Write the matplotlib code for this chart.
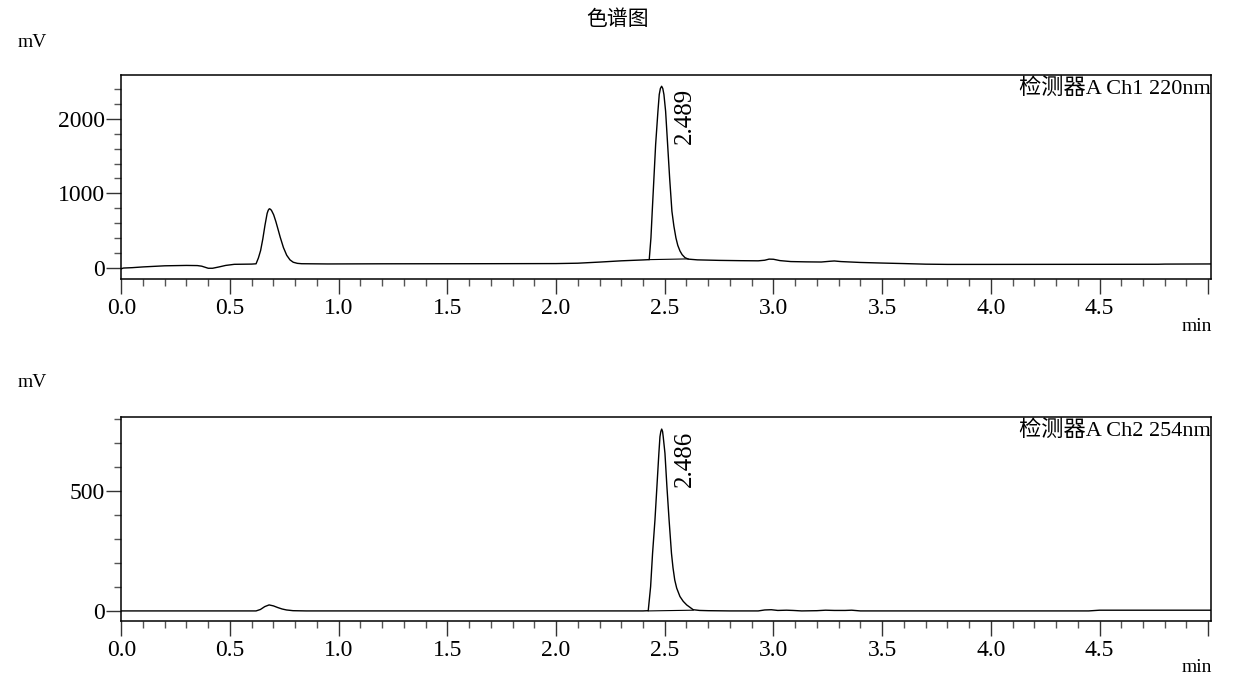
import numpy as np
import matplotlib
matplotlib.use("Agg")
import matplotlib.pyplot as plt
from matplotlib.ticker import MultipleLocator, FixedLocator, FixedFormatter

plt.rcParams['font.family'] = ['Liberation Serif', 'Noto Sans CJK SC']

# Ch1 220nm trace (min, mV)
t1 = [0.00, 0.01, 0.05, 0.10, 0.20, 0.30, 0.35, 0.37, 0.40, 0.42, 0.45, 0.48, 0.52, 0.60,
      0.620, 0.631, 0.641, 0.651, 0.661, 0.671, 0.676, 0.681, 0.686, 0.691, 0.701, 0.711,
      0.721, 0.731, 0.746, 0.761, 0.776, 0.791, 0.810, 0.830, 0.870, 0.95, 1.20, 1.60, 2.00,
      2.10, 2.20, 2.30, 2.40, 2.4287, 2.4365, 2.4425, 2.4503, 2.4581, 2.4687, 2.4747,
      2.4800, 2.4857, 2.4910, 2.4963, 2.504, 2.5133, 2.5225, 2.533, 2.542, 2.5515, 2.560,
      2.570, 2.580, 2.593, 2.608, 2.650, 2.750, 2.850, 2.930, 2.960, 2.980, 3.000, 3.030,
      3.080, 3.150, 3.220, 3.260, 3.280, 3.310, 3.400, 3.500, 3.600, 3.700, 3.800, 4.000,
      4.500, 4.770, 4.800, 5.020]
v1 = [-15, -5, 0, 10, 25, 30, 28, 20, -8, -8, 10, 30, 45, 48,
      52, 132, 231, 385, 570, 730, 772, 792, 786, 770, 711, 621,
      517, 411, 270, 167, 105, 73, 58, 53, 52, 50, 52, 53, 55,
      60, 75, 92, 104, 108, 400, 759, 1207, 1655, 2104, 2328,
      2410, 2440, 2410, 2328, 2104, 1655, 1207, 759, 560, 400, 300,
      225, 175, 135, 115, 105, 98, 94, 92, 100, 115, 113, 95,
      82, 78, 76, 86, 90, 82, 70, 62, 55, 47, 44, 44,
      45, 46, 48, 50]

# Ch2 254nm trace
t2 = [0.00, 0.60, 0.620, 0.640, 0.660, 0.680, 0.700, 0.720, 0.740, 0.760, 0.790, 0.850,
      2.400, 2.4241, 2.435, 2.444, 2.455, 2.464, 2.473, 2.478, 2.482, 2.486, 2.490,
      2.493, 2.501, 2.510, 2.520, 2.531, 2.538, 2.546, 2.555, 2.570, 2.585, 2.601, 2.631,
      2.660, 2.700, 2.800, 2.930, 2.960, 2.990, 3.020, 3.060, 3.090, 3.130, 3.200, 3.240,
      3.280, 3.330, 3.360, 3.400, 4.450, 4.500, 5.020]
v2 = [0, 0, 0, 6, 18, 25, 21, 14, 8, 4, 1, 0,
      0, 1, 101, 240, 379, 518, 657, 726, 748, 758, 748,
      726, 657, 518, 379, 240, 180, 129, 95, 60, 40, 25, 5,
      2, 1, 0, 0, 4, 5, 2, 3, 2, 0, 1, 3,
      2, 2, 3, 0, 0, 3, 3]

# peak integration baselines and retention labels
base1_t = [2.4287, 2.608]
base1_v = [108, 118]
base2_t = [2.4241, 2.631]
base2_v = [0, 3]
peak1 = (2.4857, 2440, "2.489")
peak2 = (2.486, 758, "2.486")

x_major = [0.0, 0.5, 1.0, 1.5, 2.0, 2.5, 3.0, 3.5, 4.0, 4.5, 5.0]
x_labels = ["0.0", "0.5", "1.0", "1.5", "2.0", "2.5", "3.0", "3.5", "4.0", "4.5", ""]

fig = plt.figure(figsize=(12.35, 6.9), dpi=100)
ax1 = fig.add_axes([0.0982, 0.5957, 0.8823, 0.2957])
ax2 = fig.add_axes([0.0982, 0.1000, 0.8823, 0.2952])

panels = [
    (ax1, t1, v1, base1_t, base1_v, peak1, (-152, 2592), 1000, 200, "检测器A Ch1 220nm"),
    (ax2, t2, v2, base2_t, base2_v, peak2, (-42, 807), 500, 100, "检测器A Ch2 254nm"),
]

for ax, t, v, bt, bv, pk, ylim, ymaj, ymin, det in panels:
    ax.plot(t, v, color='black', lw=1.0)
    ax.plot(bt, bv, color='black', lw=0.8)
    ax.set_xlim(0, 5.0125)
    ax.set_ylim(*ylim)
    ax.xaxis.set_major_locator(FixedLocator(x_major))
    ax.xaxis.set_major_formatter(FixedFormatter(x_labels))
    ax.xaxis.set_minor_locator(MultipleLocator(0.1))
    ax.yaxis.set_major_locator(MultipleLocator(ymaj))
    ax.yaxis.set_minor_locator(MultipleLocator(ymin))
    ax.tick_params(axis='both', which='major', length=11, width=1.0, color='#333333',
                   labelsize=17)
    ax.tick_params(axis='both', which='minor', length=5, width=1.0, color='#555555')
    ax.tick_params(axis='x', which='major', pad=3)
    ax.tick_params(axis='y', which='major', pad=1)
    for s in ax.spines.values():
        s.set_linewidth(1.1)
    ax.text(1.0, 0.985, det, transform=ax.transAxes, ha='right', va='top', fontsize=16)
    ax.annotate(pk[2], xy=(pk[0], pk[1]), xytext=(9, -1), textcoords='offset points',
                rotation=90, ha='left', va='top', fontsize=18)

fig.text(0.5, 0.972, "色谱图", ha='center', va='center', fontsize=15,
         family=['Noto Sans CJK SC'])
fig.text(0.014, 0.939, "mV", ha='left', va='center', fontsize=14)
fig.text(0.014, 0.445, "mV", ha='left', va='center', fontsize=14)
fig.text(0.981, 0.527, "min", ha='right', va='center', fontsize=14)
fig.text(0.981, 0.032, "min", ha='right', va='center', fontsize=14)

fig.savefig("out.png", dpi=100)
